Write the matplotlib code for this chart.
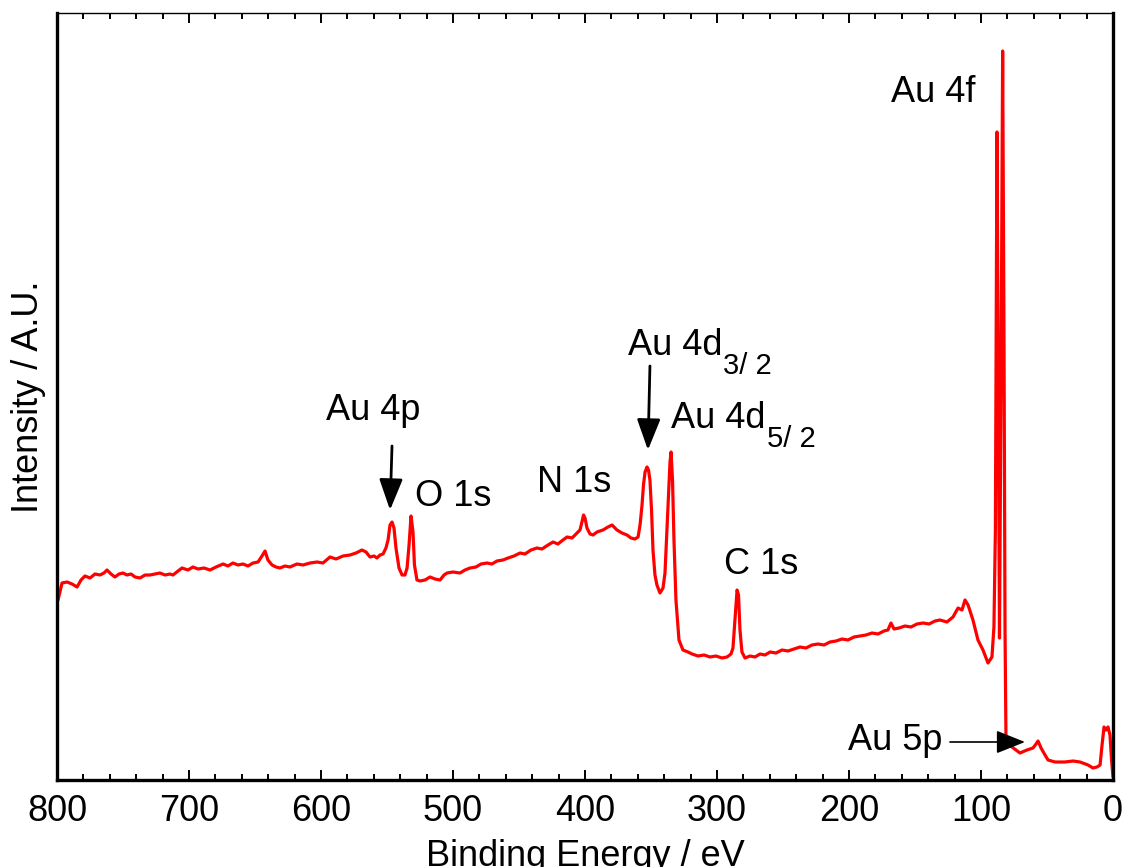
import matplotlib
matplotlib.use("Agg")
import matplotlib.pyplot as plt
from matplotlib.ticker import MultipleLocator

plt.rcParams['font.family'] = ['Liberation Sans', 'DejaVu Sans']

# Binding energy (eV) and intensity (arbitrary units)
binding_energy = [
    799.2, 796.2, 792.4, 788.6, 784.8, 781.8, 778.8, 775.0, 771.2, 767.4,
    764.4, 762.1, 759.1, 756.1, 753.0, 750.0, 747.0, 743.9, 740.9, 737.1,
    733.3, 729.5, 725.8, 722.0, 718.2, 714.4, 712.1, 708.3, 705.3, 700.8,
    697.0, 693.2, 688.6, 684.1, 679.5, 674.2, 670.5, 666.7, 662.9, 659.1,
    655.3, 651.5, 647.7, 644.7, 642.4, 640.2, 637.1, 634.1, 631.1, 627.3,
    623.5, 618.2, 613.6, 608.3, 603.0, 598.5, 593.2, 588.6, 583.3, 578.0,
    573.5, 569.0, 565.9, 562.9, 559.8, 557.6, 555.3, 553.0, 550.8, 549.2,
    547.7, 546.2, 544.7, 543.2, 540.9, 538.6, 536.4, 534.8, 533.3, 531.8,
    530.3, 529.2, 527.3, 525.0, 521.2, 517.4, 513.6, 509.8, 506.8, 504.5,
    500.0, 494.7, 490.9, 487.1, 482.6, 478.8, 474.2, 470.5, 466.7, 462.1,
    458.3, 453.8, 449.2, 445.5, 440.9, 436.4, 432.6, 428.0, 424.2, 420.5,
    416.7, 413.6, 409.8, 406.1, 403.8, 402.3, 401.1, 400.0, 398.5, 396.2,
    393.9, 390.9, 386.4, 382.6, 379.5, 377.3, 375.8, 372.0, 368.2, 365.2,
    362.1, 359.8, 358.3, 356.8, 355.7, 354.5, 353.0, 351.9, 350.8, 349.6,
    348.5, 347.0, 345.5, 343.2, 340.9, 339.4, 337.9, 336.7, 335.6, 334.8,
    333.7, 332.6, 331.1, 328.8, 325.8, 322.0, 318.9, 314.4, 309.8, 305.3,
    300.8, 296.2, 292.4, 289.4, 287.9, 286.4, 284.8, 283.7, 282.6, 281.1,
    278.8, 275.0, 271.2, 267.4, 263.6, 259.8, 255.3, 250.8, 246.2, 241.7,
    237.1, 232.6, 228.0, 223.5, 218.9, 214.4, 209.8, 205.3, 200.8, 196.2,
    191.7, 187.1, 182.6, 178.0, 173.5, 170.5, 168.2, 165.9, 162.1, 157.6,
    153.0, 148.5, 143.9, 139.4, 134.8, 131.1, 125.8, 121.2, 117.4, 114.4,
    112.1, 109.8, 106.1, 102.3, 98.5, 94.7, 91.7, 90.2, 89.1, 87.9,
    87.1, 86.0, 84.8, 83.6, 82.6, 81.8, 81.1, 79.5, 76.5, 73.5,
    70.5, 65.2, 60.6, 58.3, 56.8, 54.5, 51.5, 49.2, 43.9, 36.4,
    30.3, 25.0, 18.9, 15.2, 12.1, 9.8, 8.3, 6.8, 5.3, 3.8,
    2.3, 1.1, 0.0,
]
intensity = [
    180, 197, 198, 196, 193, 200, 204, 202, 206, 205,
    207, 210, 206, 203, 206, 207, 205, 206, 203, 202,
    205, 205, 206, 207, 205, 206, 205, 209, 212, 210,
    213, 211, 212, 210, 213, 216, 214, 217, 215, 216,
    214, 217, 218, 224, 229, 220, 215, 213, 212, 214,
    213, 216, 215, 217, 218, 217, 223, 221, 224, 225,
    227, 230, 228, 223, 224, 222, 225, 226, 232, 240,
    255, 258, 252, 232, 212, 205, 205, 212, 235, 264,
    248, 215, 200, 199, 200, 203, 201, 200, 205, 207,
    208, 207, 210, 212, 213, 216, 217, 216, 219, 220,
    222, 224, 227, 226, 230, 232, 231, 235, 238, 236,
    240, 243, 242, 247, 250, 258, 265, 262, 252, 246,
    245, 248, 250, 253, 255, 252, 250, 247, 245, 242,
    241, 243, 255, 275, 295, 308, 313, 310, 300, 270,
    230, 205, 195, 187, 192, 207, 250, 283, 318, 328,
    300, 240, 180, 140, 130, 128, 126, 124, 125, 123,
    124, 122, 123, 126, 132, 160, 190, 185, 150, 128,
    122, 124, 123, 126, 125, 128, 127, 130, 129, 131,
    133, 132, 135, 136, 135, 138, 139, 141, 140, 143,
    144, 145, 147, 146, 149, 150, 157, 151, 152, 154,
    153, 156, 157, 156, 159, 160, 158, 163, 172, 170,
    180, 175, 160, 140, 130, 117, 123, 153, 250, 648,
    450, 142, 400, 729, 450, 150, 45, 36, 33, 30,
    27, 30, 32, 36, 39, 32, 25, 20, 18, 18,
    19, 18, 15, 12, 13, 15, 35, 53, 50, 53,
    45, 20, 3,
]

x_ticks = [800, 700, 600, 500, 400, 300, 200, 100, 0]

fig = plt.figure(figsize=(11.26, 8.67), dpi=100)
ax = fig.add_axes([57 / 1126, 1 - 780 / 867, (1113 - 57) / 1126, (780 - 13) / 867])

ax.plot(binding_energy, intensity, color='#ff0000', lw=2.3,
        solid_joinstyle='round', solid_capstyle='round')

ax.set_xlim(800, 0)
ax.set_ylim(0, 767)
ax.set_xticks(x_ticks)
ax.set_xticklabels([str(t) for t in x_ticks])
ax.xaxis.set_minor_locator(MultipleLocator(20))
ax.tick_params(axis='x', which='both', direction='in', top=True, bottom=True,
               labelsize=26, pad=10)
ax.tick_params(axis='x', which='major', length=7, width=1.4)
ax.tick_params(axis='x', which='minor', length=4, width=1.4)
ax.tick_params(axis='y', which='both', left=False, right=False, labelleft=False)

for side in ['left', 'bottom', 'right']:
    ax.spines[side].set_linewidth(2.4)
ax.spines['top'].set_linewidth(1.0)

ax.set_xlabel('Binding Energy / eV', fontsize=26, labelpad=7)
ax.set_ylabel('Intensity / A.U.', fontsize=26, labelpad=8)

fs = 26
fs_sub = 21
ax.text(560.6, 369, 'Au 4p', fontsize=fs, ha='center', va='center')
ax.text(528.8, 283, 'O 1s', fontsize=fs, ha='left', va='center')
ax.text(436.4, 297, 'N 1s', fontsize=fs, ha='left', va='center')
ax.text(367.4, 425, 'Au 4d', fontsize=fs, ha='left', va='baseline')
ax.text(295.5, 428, '3/ 2', fontsize=fs_sub, ha='left', va='top')
ax.text(334.8, 352, 'Au 4d', fontsize=fs, ha='left', va='baseline')
ax.text(262.1, 355, '5/ 2', fontsize=fs_sub, ha='left', va='top')
ax.text(294.7, 215, 'C 1s', fontsize=fs, ha='left', va='center')
ax.text(168.2, 687, 'Au 4f', fontsize=fs, ha='left', va='center')
ax.text(200.8, 40, 'Au 5p', fontsize=fs, ha='left', va='center')

big_arrow = dict(arrowstyle='-|>,head_length=0.95,head_width=0.36', color='black',
                 lw=2, mutation_scale=20, shrinkA=0, shrinkB=0)
ax.annotate('', xy=(547.7, 270), xytext=(546.2, 334), arrowprops=big_arrow)
ax.annotate('', xy=(352.3, 330), xytext=(350.8, 414), arrowprops=big_arrow)
ax.annotate('', xy=(66.7, 38), xytext=(123.5, 38),
            arrowprops=dict(arrowstyle='-|>,head_length=0.9,head_width=0.36',
                            color='black', lw=1.2, mutation_scale=20,
                            shrinkA=0, shrinkB=0))

fig.savefig('out.png', dpi=100)
